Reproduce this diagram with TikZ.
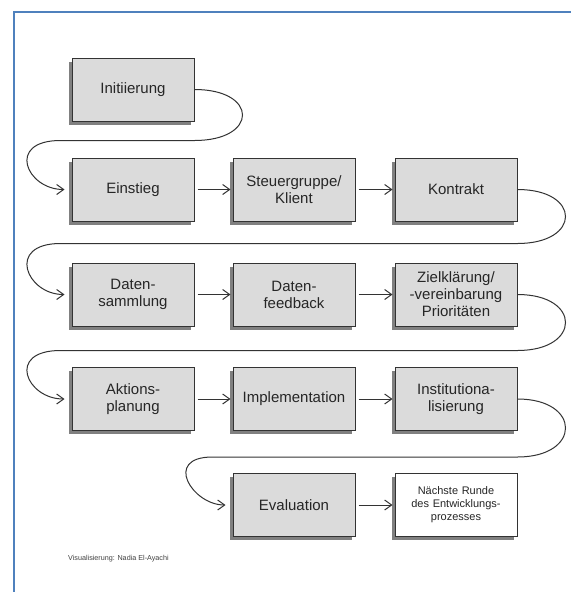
\documentclass[tikz,border=0pt]{standalone}
\usepackage{fontspec}
\setmainfont{Liberation Sans}
\usepackage{tikz}
\usetikzlibrary{arrows.meta,shadows}
\definecolor{framebl}{HTML}{4F81BD}
\definecolor{boxgray}{HTML}{DBDBDB}
\definecolor{edge}{HTML}{333333}
\tikzstyle{Phase}=[rectangle, minimum width=122, minimum height=63, text width=115, align=center, draw=edge, line width=1pt, fill=boxgray, text=black!85, font=\fontsize{15}{17}\selectfont, drop shadow={shadow xshift=-3.5pt, shadow yshift=-3.5pt, fill=black!50, opacity=1}]
\tikzstyle{Arr}=[-{Straight Barb[length=7pt,width=10pt]}, line width=1pt, draw=edge, shorten <=3pt, shorten >=2pt]
\tikzstyle{Turn}=[Arr, shorten <=0pt, shorten >=7pt]

\begin{document}
\begin{tikzpicture}[x=1pt, y=-1pt]
    \useasboundingbox (0,0) rectangle (571,592);
    \fill[white] (0,0) rectangle (571,592);
    \draw[framebl, line width=2.5pt] (14,592) -- (14,12) -- (571,12);

    \path
    (133,89.5) node[Phase] (init) {Initiierung}
    (133,189.5) node[Phase] (einstieg) {Einstieg}
    (294,189.5) node[Phase] (steuer) {Steuergruppe/\\Klient}
    (456,189.5) node[Phase] (kontrakt) {Kontrakt}
    (133,294.5) node[Phase] (dsamml) {Daten-\\sammlung}
    (294,294.5) node[Phase] (dfeed) {Daten-\\feedback}
    (456,294.5) node[Phase] (ziel) {Zielklärung/\\-vereinbarung\\Prioritäten}
    (133,399) node[Phase] (aktion) {Aktions-\\planung}
    (294,399) node[Phase] (impl) {Implementation}
    (456,399) node[Phase] (instit) {Institutiona-\\lisierung}
    (294,505) node[Phase] (eval) {Evaluation}
    (456,505) node[Phase, fill=white, font=\fontsize{11}{13}\selectfont] (naechste) {Nächste Runde\\des Entwicklungs-\\prozesses};
    \path (68,559) node[anchor=west, inner sep=0, font=\fontsize{7.2}{8}\selectfont, text=black!75] (credit) {Visualisierung: Nadia El-Ayachi};

    \draw[Arr] (einstieg.east) -- (steuer.west);
    \draw[Arr] (steuer.east) -- (kontrakt.west);
    \draw[Arr] (dsamml.east) -- (dfeed.west);
    \draw[Arr] (dfeed.east) -- (ziel.west);
    \draw[Arr] (aktion.east) -- (impl.west);
    \draw[Arr] (impl.east) -- (instit.west);
    \draw[Arr] (eval.east) -- (naechste.west);

    \draw[Turn] (init.east) .. controls +(64,0) and +(64,0) .. ++(0,51) -- ++(-134,0) .. controls +(-55,0) and +(-45,0) .. (einstieg.west);
    \draw[Turn] (kontrakt.east) .. controls +(64,0) and +(64,0) .. ++(0,54) -- ++(-457,0) .. controls +(-55,0) and +(-45,0) .. (dsamml.west);
    \draw[Turn] (ziel.east) .. controls +(64,0) and +(64,0) .. ++(0,56) -- ++(-457,0) .. controls +(-55,0) and +(-45,0) .. (aktion.west);
    \draw[Turn] (instit.east) .. controls +(64,0) and +(64,0) .. ++(0,58) -- ++(-305,0) .. controls +(-50,0) and +(-40,0) .. (eval.west);
\end{tikzpicture}
\end{document}
